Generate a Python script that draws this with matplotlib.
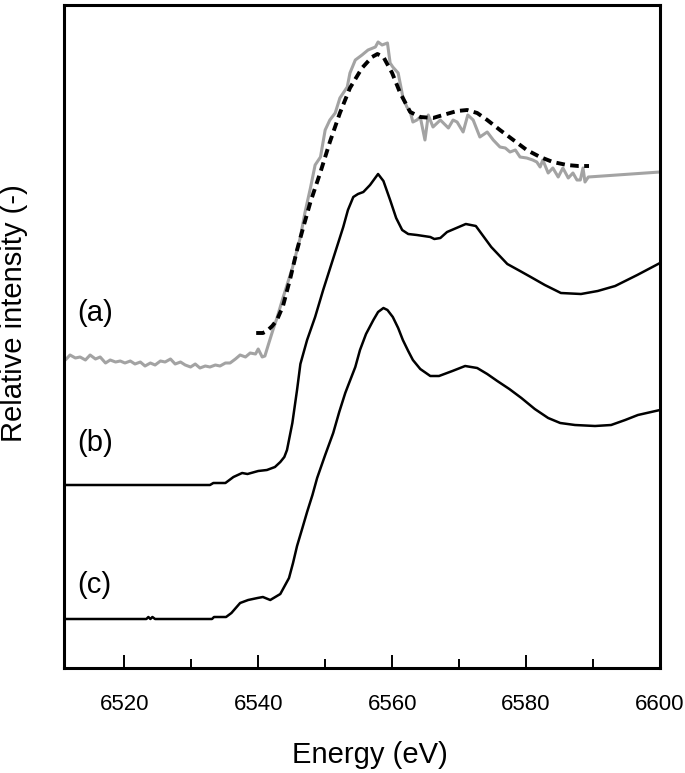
import matplotlib
matplotlib.use("Agg")
import matplotlib.pyplot as plt
from matplotlib.ticker import MultipleLocator

plt.rcParams['font.family'] = ['Liberation Sans', 'DejaVu Sans']

# (a) experimental spectrum (grey, noisy)
energy_a = [6511.0, 6511.2, 6511.9, 6512.7, 6513.4, 6514.2, 6514.9, 6515.7, 6516.4, 6517.2,
            6517.9, 6518.7, 6519.4, 6520.1, 6520.9, 6521.6, 6522.4, 6523.1, 6523.9, 6524.6,
            6525.4, 6526.1, 6526.9, 6527.6, 6528.4, 6529.1, 6529.9, 6530.6, 6531.3, 6532.1,
            6532.8, 6533.6, 6534.3, 6535.1, 6535.8, 6536.6, 6537.3, 6538.1, 6538.8, 6539.6,
            6540.0, 6540.6, 6541.0, 6541.5, 6542.2, 6542.8, 6543.6, 6544.3, 6545.1, 6545.8,
            6546.3, 6547.0, 6547.8, 6548.5, 6549.3, 6550.0, 6550.7, 6551.5, 6552.2, 6553.3,
            6553.7, 6554.5, 6555.5, 6556.4, 6557.5, 6557.9, 6558.5, 6559.3, 6559.7, 6560.1,
            6560.9, 6561.6, 6562.2, 6562.7, 6563.1, 6563.7, 6564.2, 6564.9, 6565.4, 6566.1,
            6567.2, 6568.4, 6569.1, 6569.7, 6570.6, 6571.3, 6572.1, 6573.1, 6574.2, 6575.1,
            6576.1, 6576.9, 6577.6, 6578.4, 6579.1, 6580.1, 6581.0, 6581.6, 6582.1, 6582.5,
            6583.3, 6584.0, 6584.8, 6585.5, 6586.3, 6587.0, 6587.6, 6588.1, 6588.5, 6588.8,
            6589.3, 6600.0]
intensity_a = [3.10, 3.08, 3.13, 3.10, 3.11, 3.08, 3.13, 3.09, 3.11, 3.05,
               3.08, 3.06, 3.07, 3.05, 3.07, 3.04, 3.06, 3.02, 3.05, 3.03,
               3.07, 3.06, 3.09, 3.04, 3.06, 3.03, 3.01, 3.04, 3.00, 3.02,
               3.01, 3.03, 3.02, 3.05, 3.05, 3.09, 3.13, 3.11, 3.15, 3.14,
               3.19, 3.11, 3.12, 3.23, 3.38, 3.50, 3.68, 3.83, 4.00, 4.18,
               4.31, 4.56, 4.80, 5.03, 5.11, 5.38, 5.48, 5.55, 5.70, 5.81,
               5.95, 6.08, 6.13, 6.18, 6.21, 6.26, 6.23, 6.25, 6.05, 6.01,
               5.95, 5.71, 5.61, 5.56, 5.46, 5.48, 5.51, 5.28, 5.53, 5.41,
               5.48, 5.40, 5.48, 5.46, 5.36, 5.53, 5.48, 5.31, 5.36, 5.28,
               5.21, 5.20, 5.16, 5.18, 5.11, 5.10, 5.08, 5.06, 5.01, 5.08,
               4.95, 5.00, 4.91, 5.00, 4.90, 4.95, 4.88, 4.88, 5.00, 4.86,
               4.91, 4.96]

# (a) calculated spectrum (dashed)
energy_fit = [6539.7, 6540.7, 6541.3, 6542.1, 6542.8, 6543.7, 6544.8, 6545.8, 6546.7, 6547.8,
              6549.3, 6550.7, 6552.2, 6553.7, 6555.5, 6557.0, 6557.8, 6558.7, 6560.0, 6561.2,
              6562.7, 6564.2, 6566.1, 6567.6, 6569.7, 6571.2, 6572.7, 6574.2, 6576.1, 6578.1,
              6580.1, 6582.1, 6584.0, 6586.1, 6587.8, 6589.4]
intensity_fit = [3.35, 3.35, 3.37, 3.42, 3.48, 3.62, 3.90, 4.18, 4.40, 4.66,
                 4.96, 5.26, 5.55, 5.80, 6.00, 6.11, 6.14, 6.11, 5.95, 5.75,
                 5.56, 5.51, 5.50, 5.53, 5.57, 5.58, 5.55, 5.48, 5.38, 5.28,
                 5.18, 5.11, 5.06, 5.03, 5.02, 5.02]

# (b) reference spectrum
energy_b = [6511.0, 6532.8, 6533.3, 6535.1, 6536.3, 6537.6, 6538.4, 6540.0, 6541.3, 6542.5,
            6543.3, 6543.9, 6544.3, 6545.1, 6545.8, 6546.3, 6547.3, 6548.5, 6549.7, 6552.7,
            6553.4, 6554.2, 6554.9, 6555.7, 6556.7, 6557.9, 6558.7, 6559.7, 6560.6, 6561.5,
            6562.4, 6563.7, 6565.7, 6566.3, 6567.2, 6568.2, 6571.0, 6572.5, 6574.8, 6577.2,
            6579.1, 6580.7, 6582.8, 6585.2, 6588.2, 6590.7, 6593.3, 6596.6, 6600.0]
intensity_b = [1.83, 1.83, 1.85, 1.85, 1.91, 1.95, 1.94, 1.97, 1.98, 2.01,
               2.06, 2.11, 2.18, 2.45, 2.78, 3.04, 3.28, 3.51, 3.78, 4.41,
               4.58, 4.71, 4.74, 4.76, 4.83, 4.94, 4.87, 4.68, 4.50, 4.38,
               4.34, 4.33, 4.31, 4.29, 4.30, 4.36, 4.44, 4.42, 4.21, 4.04,
               3.97, 3.91, 3.83, 3.75, 3.74, 3.77, 3.82, 3.93, 4.05]

# (c) reference spectrum
energy_c = [6511.0, 6523.3, 6523.6, 6523.9, 6524.2, 6524.6, 6533.1, 6533.4, 6535.2, 6536.0,
            6537.3, 6538.5, 6539.9, 6540.7, 6541.8, 6543.3, 6544.6, 6545.2, 6545.8, 6546.6,
            6547.3, 6548.1, 6548.8, 6550.0, 6551.2, 6552.1, 6553.0, 6553.4, 6554.5, 6555.2,
            6556.1, 6557.2, 6557.9, 6558.7, 6559.3, 6560.1, 6560.9, 6561.6, 6562.4, 6563.1,
            6564.2, 6565.7, 6567.0, 6569.0, 6570.9, 6572.7, 6574.2, 6575.7, 6577.5, 6579.3,
            6581.3, 6583.3, 6585.1, 6587.3, 6590.3, 6592.7, 6594.8, 6596.7, 6600.0]
intensity_c = [0.49, 0.49, 0.51, 0.49, 0.51, 0.49, 0.49, 0.51, 0.51, 0.55,
               0.65, 0.68, 0.70, 0.71, 0.68, 0.74, 0.90, 1.05, 1.22, 1.40,
               1.56, 1.73, 1.90, 2.13, 2.35, 2.56, 2.75, 2.82, 3.01, 3.18,
               3.34, 3.48, 3.56, 3.60, 3.58, 3.51, 3.40, 3.28, 3.17, 3.08,
               2.99, 2.92, 2.92, 2.97, 3.02, 3.00, 2.94, 2.87, 2.79, 2.70,
               2.59, 2.50, 2.45, 2.43, 2.42, 2.43, 2.48, 2.53, 2.58]

panel_labels = ['(a)', '(b)', '(c)']
x_ticks = [6520, 6540, 6560, 6580, 6600]

fig = plt.figure(figsize=(6.85, 7.73), dpi=100)
ax = fig.add_axes([64 / 685, 1 - 668 / 773, 596 / 685, 663 / 773])

ax.plot(energy_a, intensity_a, color='#a3a3a3', lw=2.2, zorder=2)
ax.plot(energy_fit, intensity_fit, color='black', lw=2.8,
        linestyle=(0, (2.2, 1.4)), zorder=3)
ax.plot(energy_b, intensity_b, color='black', lw=1.8, zorder=3)
ax.plot(energy_c, intensity_c, color='black', lw=1.8, zorder=3)

ax.set_xlim(6511, 6600)
ax.set_ylim(0, 6.63)
ax.set_xticks(x_ticks)
ax.xaxis.set_minor_locator(MultipleLocator(10))
ax.set_yticks([])
ax.tick_params(axis='x', which='major', direction='in', length=9.4, width=1.4,
               labelsize=16, pad=19, top=False)
ax.tick_params(axis='x', which='minor', direction='in', length=6.5, width=1.4, top=False)
for s in ax.spines.values():
    s.set_linewidth(2.2)

label_y = [0.535, 0.339, 0.125]
for lab, yy in zip(panel_labels, label_y):
    ax.text(0.022, yy, lab, transform=ax.transAxes, fontsize=21,
            ha='left', va='center')

fig.text(370 / 685, 1 - 755 / 773, 'Energy (eV)', fontsize=21, ha='center', va='center')
fig.text(14 / 685, 1 - 313 / 773, 'Relative intensity (-)', fontsize=21,
         rotation=90, ha='center', va='center')

fig.savefig('out.png', dpi=100)
